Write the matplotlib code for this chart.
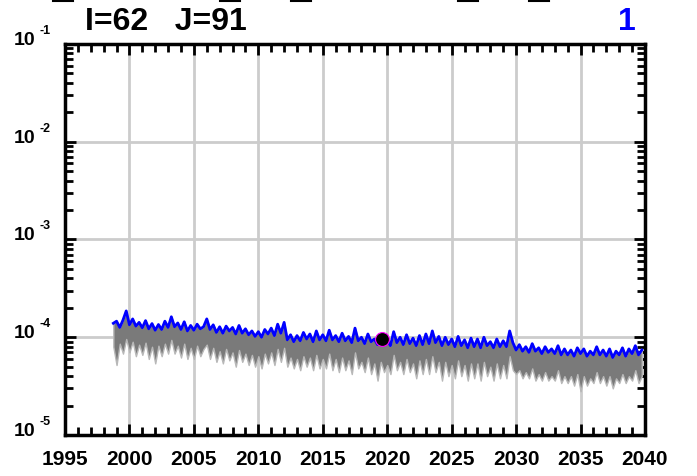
import matplotlib
matplotlib.use('Agg')
import matplotlib.pyplot as plt
import matplotlib.transforms as mtransforms
from matplotlib.lines import Line2D
import numpy as np

plt.rcParams['font.family'] = ['Liberation Sans', 'DejaVu Sans']
plt.rcParams['font.weight'] = 'bold'

# quarterly samples, 1998.75 .. 2039.75 (values in units of 1e-5)
start_year = 1998.75
upper = [13.9,
         14.6, 12.6, 15.0, 18.6,   # 1999
         13.4, 15.4, 13.0, 14.2,   # 2000
         12.5, 14.8, 12.2, 13.8,
         11.8, 13.5, 12.0, 14.6,
         12.6, 16.2, 12.8, 14.0,
         12.0, 14.4, 11.6, 13.2,
         11.8, 13.6, 12.2, 12.8,   # 2005
         15.4, 12.0, 13.4, 11.2,
         12.8, 11.0, 13.0, 11.6,
         12.6, 10.8, 13.2, 11.0,
         12.2, 10.6, 11.6, 10.2,
         11.4, 10.0, 12.0, 10.8,   # 2010
         12.4, 10.4, 13.6, 11.0,
         14.2, 9.4, 10.6, 9.0,
         10.4, 9.2, 11.2, 9.6,
         10.8, 9.0, 11.6, 9.4,
         10.6, 9.2, 11.8, 9.4,     # 2015
         10.4, 9.0, 11.0, 9.2,
         10.2, 8.8, 12.4, 9.2,
         10.0, 8.6, 10.8, 9.0,
         9.6, 8.4, 9.8, 8.6,
         9.4, 8.2, 11.4, 8.8,      # 2020
         10.0, 8.4, 10.6, 8.6,
         9.8, 8.2, 10.4, 8.4,
         10.8, 8.6, 11.6, 8.8,
         10.2, 8.2, 10.0, 8.4,
         9.6, 8.0, 10.2, 8.2,      # 2025
         9.4, 7.8, 9.8, 8.0,
         9.6, 7.8, 10.0, 8.2,
         9.0, 7.8, 9.6, 8.0,
         9.2, 8.0, 11.6, 8.8,
         7.4, 8.4, 7.2, 8.0,       # 2030
         7.0, 8.6, 7.2, 7.8,
         6.8, 8.0, 7.0, 7.6,
         6.8, 8.2, 6.6, 7.6,
         6.6, 7.4, 6.4, 7.8,
         6.8, 7.6, 6.4, 7.2,       # 2035
         6.6, 8.0, 6.6, 7.4,
         6.4, 7.6, 6.2, 7.2,
         6.6, 7.8, 6.4, 7.6,
         6.8, 8.2, 6.6, 7.4]

lower = [8.0,
         5.2, 8.6, 6.8, 9.6,
         7.0, 9.0, 6.4, 8.4,
         6.6, 8.8, 6.0, 8.0,
         5.4, 8.2, 6.4, 8.6,
         6.8, 9.4, 6.8, 8.2,
         6.2, 8.6, 6.0, 7.8,
         6.0, 8.2, 6.4, 7.6,
         8.4, 6.0, 7.8, 5.6,
         7.2, 5.4, 7.6, 5.8,
         7.0, 5.0, 7.4, 5.6,
         6.8, 5.2, 6.6, 5.0,
         6.4, 4.8, 6.8, 5.4,
         7.0, 5.2, 7.6, 5.6,
         7.8, 5.0, 6.2, 4.8,
         6.0, 4.6, 6.4, 5.0,
         6.2, 4.6, 6.6, 4.8,
         6.0, 4.8, 6.8, 4.6,
         6.0, 4.4, 6.2, 4.6,
         5.8, 4.2, 7.0, 4.8,
         5.6, 4.4, 6.2, 4.2,
         5.4, 3.6, 5.6, 4.4,
         5.2, 4.2, 6.6, 4.6,
         5.6, 4.2, 6.0, 4.4,
         5.4, 3.8, 5.8, 4.2,
         6.0, 4.2, 6.4, 4.4,
         5.6, 3.6, 5.6, 4.0,
         5.2, 3.8, 5.8, 4.0,
         5.2, 3.6, 5.4, 3.8,
         5.4, 3.6, 5.6, 4.0,
         5.0, 3.6, 5.4, 3.8,
         5.2, 3.8, 6.4, 4.6,
         4.2, 4.6, 3.8, 4.4,
         3.8, 4.8, 3.6, 4.2,
         3.6, 4.4, 3.6, 4.0,
         3.6, 4.6, 3.4, 4.0,
         3.4, 4.0, 3.2, 4.2,
         2.8, 4.0, 3.2, 3.8,
         3.4, 4.4, 3.4, 4.0,
         3.2, 4.0, 3.0, 3.8,
         3.4, 4.2, 3.4, 4.0,
         3.6, 4.6, 3.4, 4.0]

obs_year = 2019.6
obs_value = 9.5e-5

x_ticks = [1995, 2000, 2005, 2010, 2015, 2020, 2025, 2030, 2035, 2040]
y_exps = [-5, -4, -3, -2, -1]

years = start_year + 0.25 * np.arange(len(upper))
up = np.array(upper) * 1e-5
lo = np.array(lower) * 1e-5

fig = plt.figure(figsize=(6.97, 4.77), dpi=100)
ax = fig.add_axes([65 / 697, 1 - 436 / 477, 580 / 697, 391 / 477])

ax.fill_between(years, lo, up, color='#7a7a7a', lw=1.0, edgecolor='#b8b8b8', zorder=2)
ax.plot(years, up, color='#0000ff', lw=2.0, zorder=3)
ax.plot([obs_year], [obs_value], 'o', color='black', markersize=10,
        markeredgecolor='#ff00ff', markeredgewidth=0.8, zorder=4)

ax.set_yscale('log')
ax.set_xlim(1995, 2040)
ax.set_ylim(1e-5, 1e-1)

ax.set_xticks(x_ticks)
ax.set_xticklabels([str(t) for t in x_ticks], fontsize=15, fontweight='bold')
ax.set_xticks(np.arange(1995, 2041, 1), minor=True)
ax.set_yticks([10.0 ** e for e in y_exps])
ax.set_yticklabels(['' for e in y_exps])
ax.yaxis.set_minor_locator(matplotlib.ticker.LogLocator(base=10, subs=np.arange(2, 10), numticks=20))
ax.yaxis.set_minor_formatter(matplotlib.ticker.NullFormatter())

# y labels: "10" with a small, detached exponent
ytrans = ax.get_yaxis_transform()
for e in y_exps:
    t_base = ytrans + mtransforms.ScaledTranslation(-30 / 100, 0, fig.dpi_scale_trans)
    ax.text(0, 10.0 ** e, '10', transform=t_base, fontsize=14, fontweight='bold',
            ha='right', va='baseline', clip_on=False)
    t_exp = ytrans + mtransforms.ScaledTranslation(-25 / 100, 11 / 100, fig.dpi_scale_trans)
    ax.text(0, 10.0 ** e, str(e), transform=t_exp, fontsize=9, fontweight='bold',
            ha='left', va='baseline', clip_on=False)

ax.grid(True, which='major', color='#cccccc', lw=2, zorder=0)
ax.set_axisbelow(True)
ax.tick_params(which='both', direction='in', top=True, right=True, width=2, color='black')
ax.tick_params(which='major', length=8)
ax.tick_params(which='minor', length=6)
ax.tick_params(axis='x', pad=10)
for s in ax.spines.values():
    s.set_linewidth(2.5)

fig.text(85 / 697, 1 - 22 / 477, 'I=62   J=91', fontsize=23, fontweight='bold', va='center', ha='left')
fig.text(636 / 697, 1 - 22 / 477, '1', fontsize=23, fontweight='bold', va='center', ha='right', color='#0000ff')

# clipped marks along the top edge
for x0, x1 in [(53, 73), (220, 240), (291, 311), (458, 478), (529, 549)]:
    fig.add_artist(Line2D([x0 / 697, x1 / 697], [1 - 2 / 477, 1 - 2 / 477], color='black', lw=1.5))

fig.savefig('out.png', dpi=100)
